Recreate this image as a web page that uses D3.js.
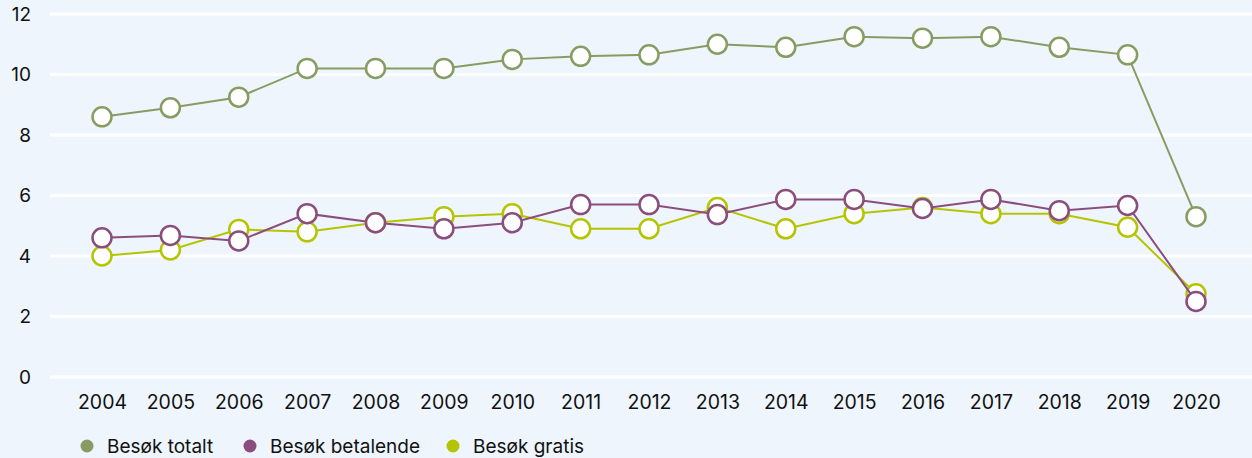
<!DOCTYPE html>
<html>
<head>
<meta charset="utf-8">
<script src="https://cdn.jsdelivr.net/npm/d3@7"></script>
<style>
  html, body { margin: 0; padding: 0; background: #eef5fc; }
  svg { display: block; font-family: Inter, "Noto Sans", sans-serif; }
</style>
</head>
<body>
<div id="chart"></div>
<script>
;(function() {
  'use strict';
  var years = ['2004', '2005', '2006', '2007', '2008', '2009', '2010', '2011', '2012',
               '2013', '2014', '2015', '2016', '2017', '2018', '2019', '2020'],
      totalt = [8.6, 8.9, 9.25, 10.2, 10.2, 10.2, 10.5, 10.6, 10.65, 11.0, 10.9, 11.25, 11.2, 11.25, 10.9, 10.65, 5.3],
      betalende = [4.6, 4.68, 4.5, 5.4, 5.1, 4.9, 5.1, 5.7, 5.7, 5.37, 5.87, 5.87, 5.57, 5.87, 5.5, 5.67, 2.5],
      gratis = [4.0, 4.2, 4.88, 4.8, 5.1, 5.3, 5.4, 4.9, 4.9, 5.6, 4.9, 5.4, 5.6, 5.4, 5.4, 4.95, 2.75],
      yTicks = [0, 2, 4, 6, 8, 10, 12],
      seriesNames = ['Besøk totalt', 'Besøk betalende', 'Besøk gratis'],
      colors = ['#879c63', '#8a4d7c', '#b4c500'];

  var width = 1252, height = 458,
      margin = {top: 14, right: 0, bottom: 81, left: 50};

  var svg = d3.select('#chart').append('svg')
    .attr('width', width)
    .attr('height', height);

  var x = d3.scalePoint()
    .domain(years)
    .range([102, 1196]);

  var y = d3.scaleLinear()
    .domain([0, 12])
    .range([height - margin.bottom, margin.top]);

  // Gridlines
  svg.append('g')
    .selectAll('line')
    .data(yTicks)
    .enter().append('line')
      .attr('x1', margin.left)
      .attr('x2', width)
      .attr('y1', function(d) { return y(d); })
      .attr('y2', function(d) { return y(d); })
      .attr('stroke', '#ffffff')
      .attr('stroke-width', 3);

  // Y axis labels
  var yAxis = svg.append('g')
    .attr('transform', 'translate(31,0)')
    .call(d3.axisLeft(y).tickValues(yTicks).tickSize(0).tickPadding(0));
  yAxis.select('.domain').remove();
  yAxis.selectAll('text')
    .attr('font-size', 19)
    .attr('font-family', 'Inter, "Noto Sans", sans-serif')
    .attr('fill', '#111');

  // X axis labels
  var xAxis = svg.append('g')
    .attr('transform', 'translate(0,' + (height - margin.bottom + 18) + ')')
    .call(d3.axisBottom(x).tickSize(0).tickPadding(0));
  xAxis.select('.domain').remove();
  xAxis.selectAll('text')
    .attr('font-size', 19.5)
    .attr('font-family', 'Inter, "Noto Sans", sans-serif')
    .attr('fill', '#111');

  var line = d3.line()
    .x(function(d, i) { return x(years[i]); })
    .y(function(d) { return y(d); });

  // Draw order: totalt, gratis, betalende on top
  var drawOrder = [[totalt, colors[0]], [gratis, colors[2]], [betalende, colors[1]]];

  drawOrder.forEach(function(s) {
    var g = svg.append('g');
    g.append('path')
      .datum(s[0])
      .attr('d', line)
      .attr('fill', 'none')
      .attr('stroke', s[1])
      .attr('stroke-width', 2);
    g.selectAll('circle')
      .data(s[0])
      .enter().append('circle')
        .attr('cx', function(d, i) { return x(years[i]); })
        .attr('cy', function(d) { return y(d); })
        .attr('r', 9.5)
        .attr('fill', '#ffffff')
        .attr('stroke', s[1])
        .attr('stroke-width', 2.5);
  });

  // Legend
  var legendX = [87, 250, 453];
  var legend = svg.append('g')
    .selectAll('g')
    .data(seriesNames)
    .enter().append('g')
      .attr('transform', function(d, i) { return 'translate(' + legendX[i] + ',446)'; });
  legend.append('circle')
    .attr('r', 6.5)
    .attr('fill', function(d, i) { return colors[i]; });
  legend.append('text')
    .attr('x', 20)
    .attr('dy', '0.35em')
    .attr('font-size', 19)
    .attr('fill', '#111')
    .text(function(d) { return d; });
})();
</script>
</body>
</html>
